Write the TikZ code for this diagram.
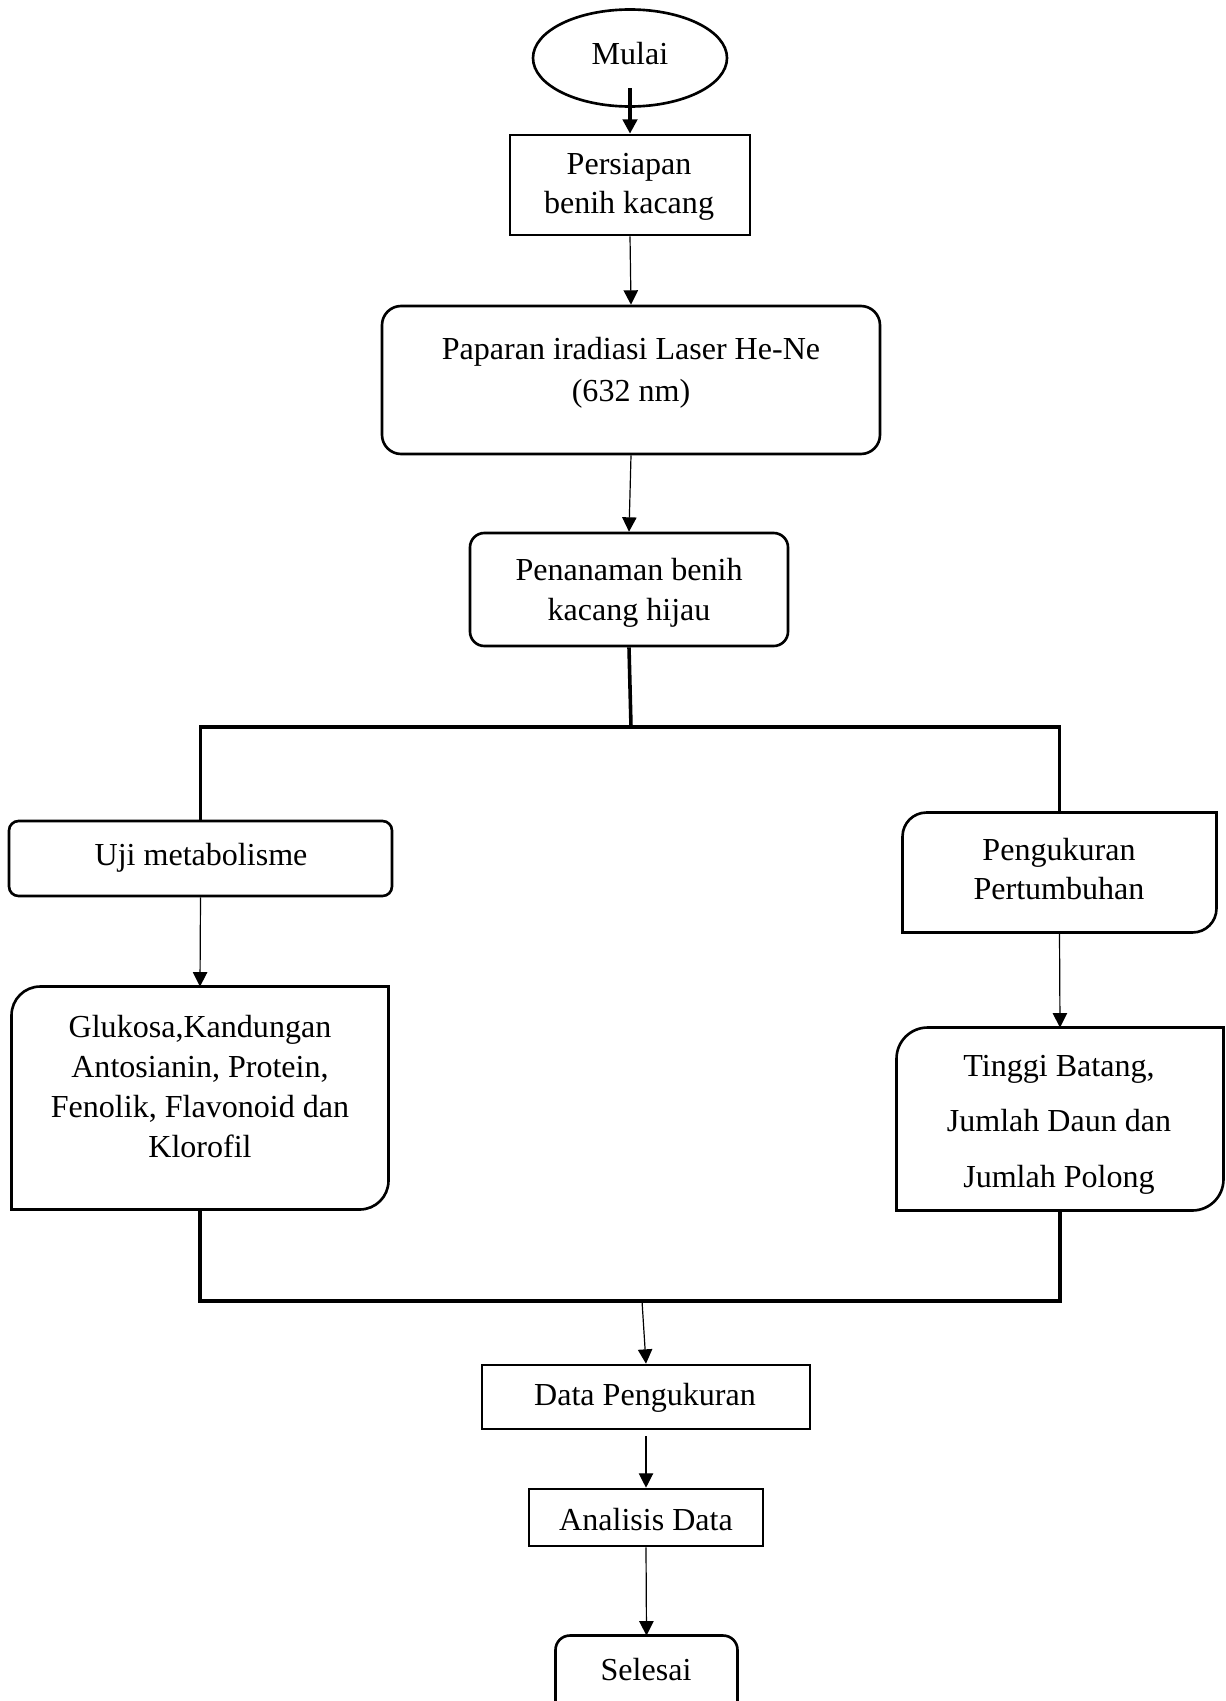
\documentclass[tikz,border=0pt]{standalone}
\usepackage{fontspec}
\setmainfont{Liberation Serif}
\usetikzlibrary{shapes.geometric,arrows.meta}
\def\U{0.418pt}
\tikzset{
  boxline/.style={draw=black, line width=1.1pt},
  plainbox/.style={rectangle, inner sep=0pt},
  conn/.style={line width=0.5pt, -{Triangle[length=6pt,width=6pt]}},
  bigconn/.style={line width=1.7pt, -{Triangle[length=6pt,width=6pt]}},
  branch/.style={line width=1.5pt},
  txt/.style={anchor=base, inner sep=0pt, align=center, font=\fontsize{13.4}{16.6}\selectfont},
}
\newcommand{\diagbox}[2]{%
  \draw[boxline] (#1.south west) -- ([yshift=-#2]#1.north west)
    arc[start angle=180,end angle=90,radius=#2] -- (#1.north east)
    -- ([yshift=#2]#1.south east)
    arc[start angle=0,end angle=-90,radius=#2] -- cycle;}
\begin{document}
\begin{tikzpicture}[x=0.418pt,y=0.418pt]
\useasboundingbox (0,0) rectangle (1225,-1701);
% boxes
\node[ellipse, boxline, minimum width=194*\U, minimum height=97*\U, inner sep=0pt] (mulai) at (630,-58) {};
\node[plainbox, boxline, minimum width=240*\U, minimum height=100*\U] (persiapan) at (630,-185) {};
\node[plainbox, boxline, rounded corners=8pt, minimum width=498*\U, minimum height=148*\U] (paparan) at (631,-380) {};
\node[plainbox, boxline, rounded corners=6pt, minimum width=318*\U, minimum height=113*\U] (penanaman) at (629,-589.5) {};
\node[plainbox, boxline, rounded corners=4pt, minimum width=383*\U, minimum height=75*\U] (uji) at (200.5,-858.5) {};
\node[plainbox, minimum width=376*\U, minimum height=222*\U] (glukosa) at (200,-1098) {};
\node[plainbox, minimum width=313*\U, minimum height=119*\U] (pengukuran) at (1059.5,-872.5) {};
\node[plainbox, minimum width=326*\U, minimum height=182*\U] (tinggi) at (1060,-1119) {};
\node[plainbox, boxline, minimum width=328*\U, minimum height=64*\U] (data) at (646,-1397) {};
\node[plainbox, boxline, minimum width=234*\U, minimum height=57*\U] (analisis) at (646,-1517.5) {};
\node[plainbox, minimum width=181*\U, minimum height=66*\U] (selesai) at (646.5,-1669) {};
\diagbox{glukosa}{12pt}
\diagbox{pengukuran}{10pt}
\diagbox{tinggi}{13pt}
\draw[boxline, rounded corners=6pt] (selesai.south west) -- (selesai.north west) -- (selesai.north east) -- (selesai.south east);
% texts (anchor base = baseline of last line)
\node[txt] (tmulai) at (630,-64) {Mulai};
\node[txt, font=\fontsize{13.4}{16}\selectfont] (tpersiapan) at (629,-213) {Persiapan\\benih kacang};
\node[txt, font=\fontsize{13.4}{17.3}\selectfont] (tpaparan) at (631,-401) {Paparan iradiasi Laser He-Ne\\(632 nm)};
\node[txt] (tpenanaman) at (629,-620) {Penanaman benih\\kacang hijau};
\node[txt] (tuji) at (201,-865) {Uji metabolisme};
\node[txt, font=\fontsize{13.4}{16.6}\selectfont] (tglukosa) at (200,-1157) {Glukosa,Kandungan\\Antosianin, Protein,\\Fenolik, Flavonoid dan\\Klorofil};
\node[txt, font=\fontsize{13.4}{16.2}\selectfont] (tpengukuran) at (1059,-899) {Pengukuran\\Pertumbuhan};
\node[txt, font=\fontsize{13.4}{23}\selectfont] (ttinggi) at (1059,-1187) {Tinggi Batang,\\Jumlah Daun dan\\Jumlah Polong};
\node[txt] (tdata) at (645,-1405) {Data Pengukuran};
\node[txt] (tanalisis) at (646,-1530) {Analisis Data};
\node[txt] (tselesai) at (646,-1680) {Selesai};
% connectors
\draw[bigconn] ([yshift=-30*\U]mulai.center) -- (persiapan.north);
\draw[conn] (persiapan.south) -- (paparan.north);
\draw[conn] (paparan.south) -- (penanaman.north);
\coordinate (split) at (631,-727);
\draw[branch] (penanaman.south) -- (split);
\draw[branch] (uji.north) |- (split) -| (pengukuran.north);
\draw[conn] (uji.south) -- (glukosa.north);
\draw[conn] (pengukuran.south) -- (tinggi.north);
\coordinate (merge) at (642,-1301);
\draw[branch] (glukosa.south) |- (merge) -| (tinggi.south);
\draw[conn] (merge) -- (data.north);
\draw[conn, shorten <=2.5pt] (data.south) -- (analisis.north);
\draw[conn] (analisis.south) -- (selesai.north);
\end{tikzpicture}
\end{document}
